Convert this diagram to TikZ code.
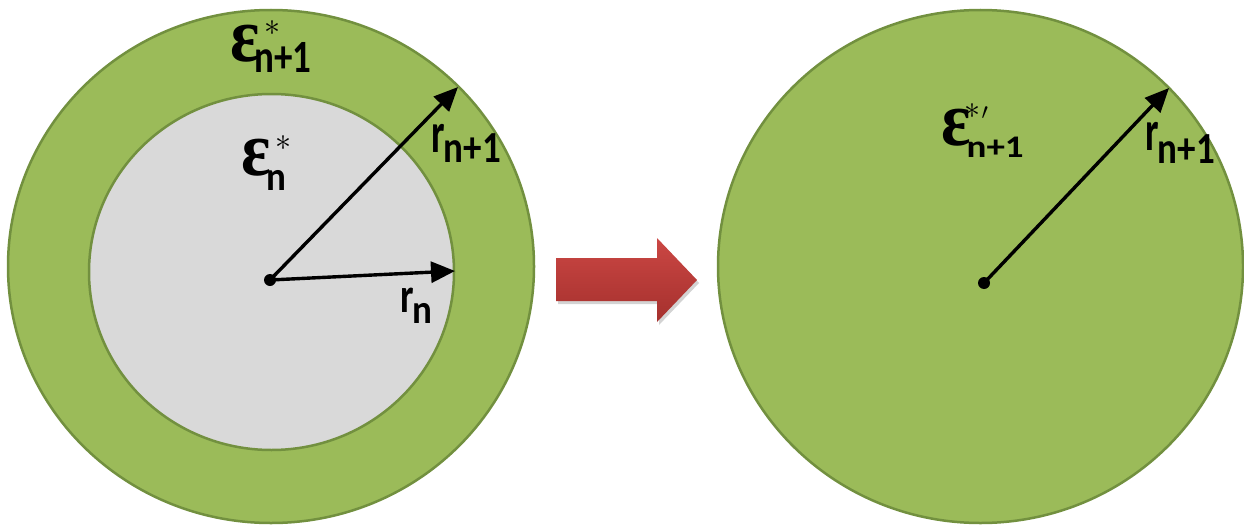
\documentclass[tikz,border=0pt]{standalone}
\usepackage{fontspec}
\usepackage{graphicx}
\usetikzlibrary{arrows.meta,shadows}
\newfontfamily\subf{Carlito}
\newfontfamily\epsf{Liberation Serif}
\definecolor{ringgreen}{HTML}{9BBB59}
\definecolor{ringedge}{HTML}{72903F}
\definecolor{coregray}{HTML}{D9D9D9}
\definecolor{arrtop}{HTML}{CB4744}
\definecolor{arrbot}{HTML}{A5302D}
\newcommand{\bigeps}{\scalebox{1}[1.12]{\fontsize{69}{69}\epsf\bfseries ε}}
\newcommand{\starsym}{\scalebox{3.2}{$\ast$}}
\newcommand{\primesym}{\scalebox{2.3}{$\prime$}}
\newcommand{\subtxt}[2]{\scalebox{1}[#1]{\fontsize{37}{37}\subf\bfseries #2}}
\newcommand{\rtxt}[1]{\scalebox{1}[#1]{\fontsize{38}{38}\subf\bfseries r}}
\tikzset{
  disc/.style={fill=ringgreen, draw=ringedge, line width=2.5pt},
  core/.style={fill=coregray, draw=ringedge, line width=2.5pt},
  radius arrow/.style={line width=3.4pt, -{Triangle[length=24pt,width=21pt]}},
  centre dot/.style={circle, fill=black, inner sep=0pt, minimum size=12pt},
  lbl/.style={inner sep=0pt, anchor=base west},
  bigarrow/.style={top color=arrtop, bottom color=arrbot, draw=none,
    drop shadow={opacity=0.35, shadow xshift=2pt, shadow yshift=-3pt}}
}
\begin{document}
\begin{tikzpicture}[x=1pt,y=-1pt]
\useasboundingbox (0,0) rectangle (1244,527);
% left rings
\draw[disc] (271,266.5) ellipse [x radius=263pt, y radius=256.5pt];
\draw[core] (271.5,272) ellipse [x radius=182.5pt, y radius=178pt];
% right disc
\draw[disc] (980.5,266.5) ellipse [x radius=262.5pt, y radius=256.5pt];
% centres
\node[centre dot] (c1) at (270,280) {};
\node[centre dot] (c2) at (984,283) {};
\coordinate (t1) at (458,87);
\coordinate (t2) at (455,271);
\coordinate (t3) at (1169,88);
\draw[radius arrow] (c1.center) -- (t1);
\draw[radius arrow] (c1.center) -- (t2);
\draw[radius arrow] (c2.center) -- (t3);
% red arrow
\path[bigarrow] (556,258) -- (657,258) -- (657,238) -- (697,280) -- (657,322) -- (657,301) -- (556,301) -- cycle;
% labels
\node[lbl] (e1) at (230,62) {\bigeps\kern-5pt\rlap{\kern10pt\raisebox{26pt}{\starsym}}\raisebox{-11pt}{\subtxt{1.25}{n+1}}};
\node[lbl] (e2) at (241,175) {\bigeps\kern-4pt\rlap{\kern9pt\raisebox{25pt}{\starsym}}\raisebox{-15pt}{\subtxt{1.1}{n}}};
\node[lbl] (e3) at (941,145) {\bigeps\kern-4pt\rlap{\kern-2pt\raisebox{27pt}{\starsym}\kern1pt\raisebox{26pt}{\primesym}}\raisebox{-12pt}{\subtxt{0.85}{n+1}}};
\node[lbl] (r1) at (431,152) {\rtxt{1.5}\kern-1pt\raisebox{-10pt}{\subtxt{1.2}{n+1}}};
\node[lbl] (r2) at (1145,150) {\rtxt{1.5}\kern-1pt\raisebox{-13pt}{\subtxt{1.2}{n+1}}};
\node[lbl] (r3) at (400,312) {\rtxt{1.3}\kern-1pt\raisebox{-11pt}{\subtxt{1.1}{n}}};
\end{tikzpicture}
\end{document}
